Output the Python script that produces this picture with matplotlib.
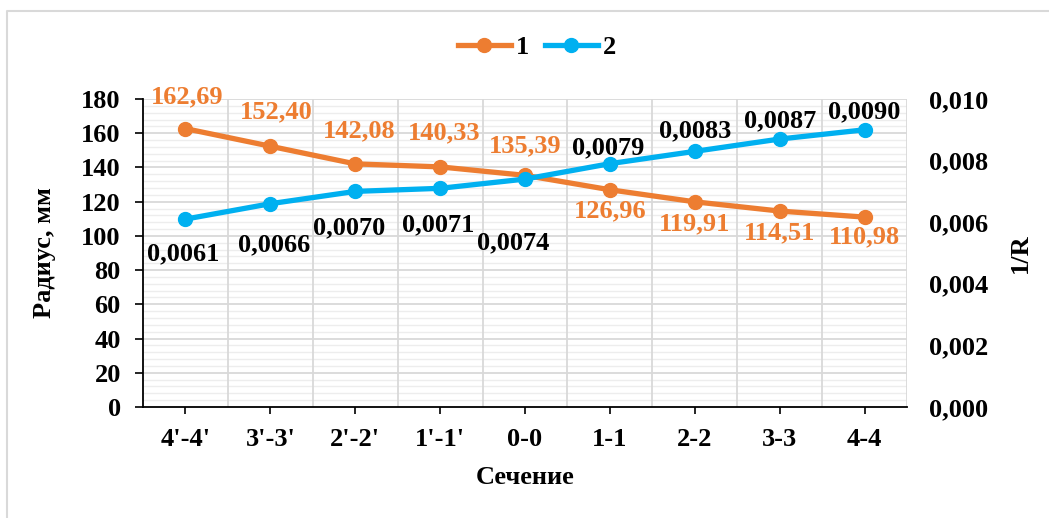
import matplotlib
matplotlib.use("Agg")
import matplotlib.pyplot as plt
from matplotlib.lines import Line2D
from matplotlib.ticker import MultipleLocator, FuncFormatter

# Sections and measured values
sections = ["4'-4'", "3'-3'", "2'-2'", "1'-1'", "0-0", "1-1", "2-2", "3-3", "4-4"]
radius_mm = [162.69, 152.40, 142.08, 140.33, 135.39, 126.96, 119.91, 114.51, 110.98]
curvature = [0.0061, 0.0066, 0.0070, 0.0071, 0.0074, 0.0079, 0.0083, 0.0087, 0.0090]
series_names = ["1", "2"]

ORANGE = "#ED7D31"
BLUE = "#00B0F0"
GRID = "#D9D9D9"
MINOR = "#EDEDED"
FS = 19

plt.rcParams["font.family"] = ["Liberation Serif", "DejaVu Serif"]
plt.rcParams["font.weight"] = "bold"

W, H = 1049, 518
fig = plt.figure(figsize=(W / 100, H / 100), dpi=100)
ax = fig.add_axes([143 / W, 1 - 407 / H, (907 - 143) / W, (407 - 99) / H])
ax2 = ax.twinx()

x = list(range(len(sections)))

# Axes limits and ticks
ax.set_xlim(-0.5, len(sections) - 0.5)
ax.set_ylim(0, 180)
ax.yaxis.set_major_locator(MultipleLocator(20))
ax.yaxis.set_minor_locator(MultipleLocator(4))
ax2.set_ylim(0, 0.010)
ax2.yaxis.set_major_locator(MultipleLocator(0.002))
ax2.yaxis.set_major_formatter(FuncFormatter(lambda v, p: f"{v:.3f}".replace(".", ",")))

# Grid: horizontal major/minor lines, vertical lines between categories
for yv in range(0, 181, 4):
    if yv % 20:
        ax.axhline(yv, color=MINOR, lw=1.0, zorder=0)
for yv in range(20, 181, 20):
    ax.axhline(yv, color=GRID, lw=1.3, zorder=0)
for xv in range(len(sections)):
    ax.axvline(xv + 0.5, color=GRID, lw=1.3, zorder=0)

ax.set_xticks(x)
ax.set_xticklabels(sections)
ax.tick_params(axis="x", length=5, width=1.2, direction="out", labelsize=FS, pad=10)
ax.tick_params(axis="y", which="major", length=6, width=1.2, direction="out", labelsize=FS, pad=10)
ax.tick_params(axis="y", which="minor", length=0)
ax2.tick_params(axis="y", length=0, labelsize=FS, pad=16)

for s in ["top", "right"]:
    ax.spines[s].set_visible(False)
for s in ["top", "right", "left", "bottom"]:
    ax2.spines[s].set_visible(False)
ax.spines["left"].set_linewidth(1.3)
ax.spines["bottom"].set_linewidth(1.3)

# Lines
ax.plot(x, radius_mm, color=ORANGE, lw=3.8, marker="o", ms=10, zorder=3)
ax2.plot(x, curvature, color=BLUE, lw=3.8, marker="o", ms=10, zorder=3)
ax.set_zorder(1)
ax.patch.set_visible(False)
ax2.set_zorder(2)

# Data labels (offsets in pixels)
r_offsets = [(2, 32), (6, 34), (4, 33), (4, 34), (0, 30), (0, -21), (0, -22), (0, -22), (0, -20)]
c_offsets = [(-2, -35), (4, -41), (-6, -36), (-2, -36), (-12, -64), (-2, 16), (0, 21), (0, 18), (0, 18)]
for xi, v, (dx, dy) in zip(x, radius_mm, r_offsets):
    ax.annotate(f"{v:.2f}".replace(".", ","), (xi, v), xytext=(dx * 0.72, dy * 0.72),
                textcoords="offset points", ha="center", va="center",
                color=ORANGE, fontsize=FS, fontweight="bold", zorder=5)
for xi, v, (dx, dy) in zip(x, curvature, c_offsets):
    ax2.annotate(f"{v:.4f}".replace(".", ","), (xi, v), xytext=(dx * 0.72, dy * 0.72),
                 textcoords="offset points", ha="center", va="center",
                 color="black", fontsize=FS, fontweight="bold", zorder=5)

# Axis titles
fig.text(525 / W, 1 - 477 / H, "Сечение", ha="center", va="center",
         fontsize=FS, fontweight="bold")
fig.text(45 / W, 1 - 253 / H, "Радиус, мм", rotation=90, ha="center", va="center",
         fontsize=FS, fontweight="bold")
fig.text(1020 / W, 1 - 253 / H, "1/R", rotation=90, ha="center", va="center",
         fontsize=FS, fontweight="bold")

# Legend
handles = [Line2D([0], [0], color=ORANGE, lw=3.8, marker="o", ms=10),
           Line2D([0], [0], color=BLUE, lw=3.8, marker="o", ms=10)]
fig.legend(handles, series_names, loc="center", bbox_to_anchor=(537 / W, 1 - 47 / H),
           ncol=2, frameon=False, fontsize=FS, handlelength=2.0, handletextpad=0.2,
           columnspacing=0.6)

# Chart frame
fig.add_artist(Line2D([7 / W, 7 / W, 1.0], [0.0, 1 - 11 / H, 1 - 11 / H],
                      transform=fig.transFigure, color=GRID, lw=1.5))

fig.savefig("out.png", dpi=100)
